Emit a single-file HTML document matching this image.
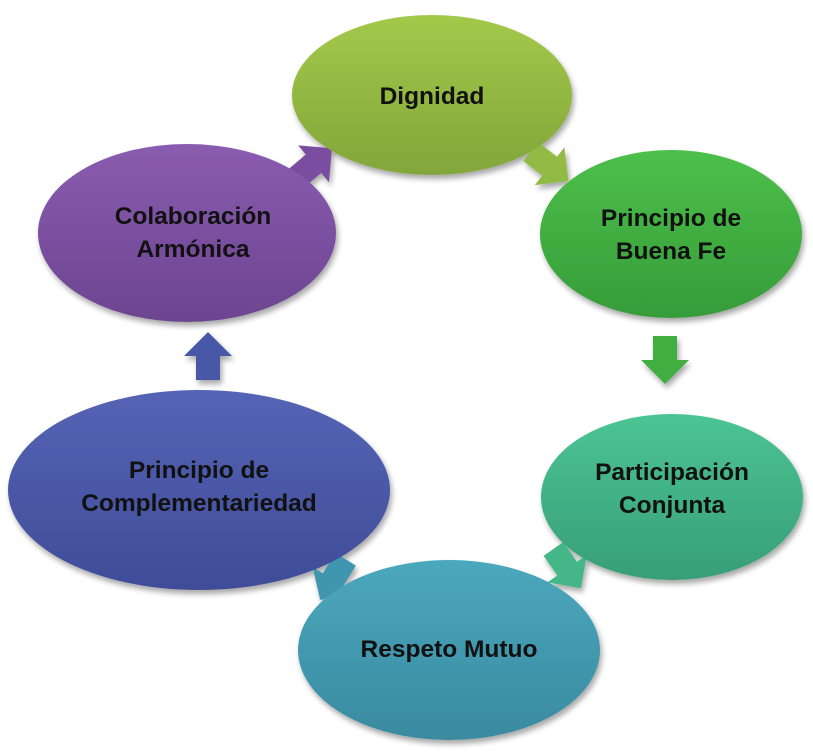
<!DOCTYPE html>
<html><head><meta charset="utf-8"><style>
html,body{margin:0;padding:0;background:#fff;width:813px;height:753px;overflow:hidden}
svg text{font-family:"Liberation Sans",sans-serif;font-weight:bold;font-size:24.5px;fill:#111;text-anchor:middle}
</style></head><body>
<svg width="813" height="753" viewBox="0 0 813 753" xmlns="http://www.w3.org/2000/svg">
<defs>
<filter id="sh" x="-10%" y="-10%" width="130%" height="130%"><feGaussianBlur in="SourceAlpha" stdDeviation="3"/><feOffset dx="2" dy="4"/><feComponentTransfer><feFuncA type="linear" slope="0.35"/></feComponentTransfer><feMerge><feMergeNode/><feMergeNode in="SourceGraphic"/></feMerge></filter>
<linearGradient id="g1" x1="0" y1="0" x2="0" y2="1"><stop offset="0" stop-color="#a3c94a"/><stop offset="1" stop-color="#82a63a"/></linearGradient>
<linearGradient id="g2" x1="0" y1="0" x2="0" y2="1"><stop offset="0" stop-color="#4cc04a"/><stop offset="1" stop-color="#369c39"/></linearGradient>
<linearGradient id="g3" x1="0" y1="0" x2="0" y2="1"><stop offset="0" stop-color="#4cc494"/><stop offset="1" stop-color="#379e78"/></linearGradient>
<linearGradient id="g4" x1="0" y1="0" x2="0" y2="1"><stop offset="0" stop-color="#4ba8bd"/><stop offset="1" stop-color="#3a8aa0"/></linearGradient>
<linearGradient id="g5" x1="0" y1="0" x2="0" y2="1"><stop offset="0" stop-color="#5564b5"/><stop offset="1" stop-color="#3f4c98"/></linearGradient>
<linearGradient id="g6" x1="0" y1="0" x2="0" y2="1"><stop offset="0" stop-color="#8a5cb0"/><stop offset="1" stop-color="#6c4490"/></linearGradient>
<polygon id="ar" points="-22,-12 2,-12 2,-24 26,0 2,24 2,12 -22,12"/>
</defs>
<g filter="url(#sh)">
<use href="#ar" fill="#92bb45" transform="translate(548,165) rotate(38)"/>
<use href="#ar" fill="#3fae3f" transform="translate(665,358) rotate(90)"/>
<use href="#ar" fill="#44b688" transform="translate(566,567) rotate(55)"/>
<use href="#ar" fill="#3f96ae" transform="translate(334,578) rotate(122)"/>
<use href="#ar" fill="#4a58a6" transform="translate(208,358) rotate(-90)"/>
<use href="#ar" fill="#7a4ea0" transform="translate(312,165) rotate(-40)"/>
<ellipse cx="432" cy="95" rx="140" ry="80" fill="url(#g1)"/>
<ellipse cx="671" cy="234" rx="131" ry="84" fill="url(#g2)"/>
<ellipse cx="672" cy="497" rx="131" ry="83" fill="url(#g3)"/>
<ellipse cx="449" cy="650" rx="151" ry="90" fill="url(#g4)"/>
<ellipse cx="199" cy="490" rx="191" ry="100" fill="url(#g5)"/>
<ellipse cx="187" cy="233" rx="149" ry="89" fill="url(#g6)"/>
</g>
<text x="432" y="104">Dignidad</text>
<text x="671" y="226">Principio de</text>
<text x="671" y="259">Buena Fe</text>
<text x="672" y="480">Participación</text>
<text x="672" y="513">Conjunta</text>
<text x="449" y="657">Respeto Mutuo</text>
<text x="199" y="478">Principio de</text>
<text x="199" y="511">Complementariedad</text>
<text x="193" y="224">Colaboración</text>
<text x="193" y="257">Armónica</text>
</svg>
</body></html>
